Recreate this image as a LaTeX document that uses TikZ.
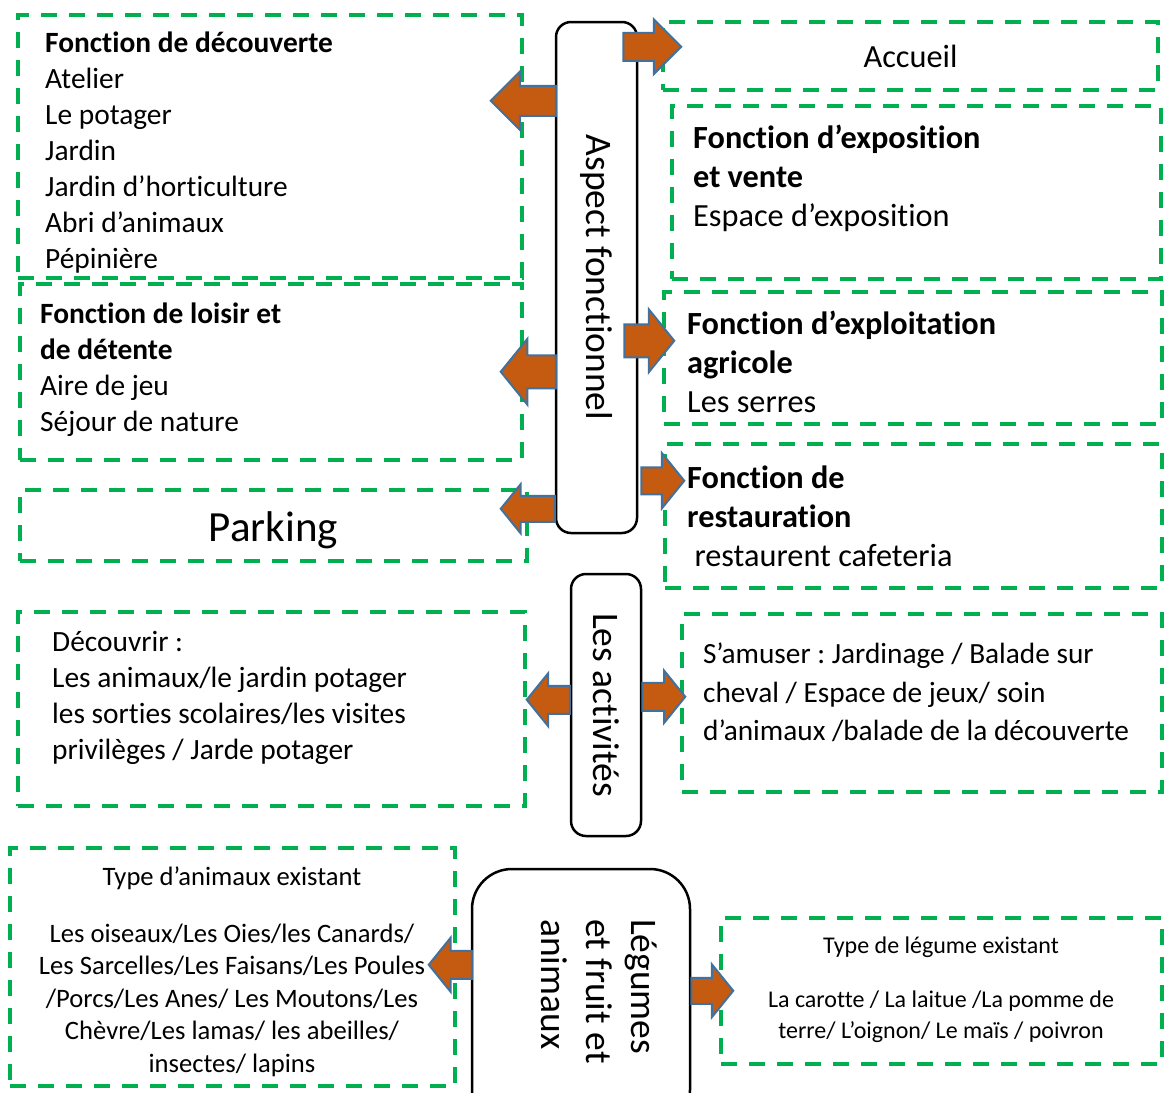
\documentclass[tikz,border=0pt]{standalone}
\usepackage{fontspec}
\setmainfont{Carlito}[Ligatures=NoCommon]
\usetikzlibrary{shapes.arrows, fit}
\frenchspacing

\definecolor{boxgreen}{HTML}{00B050}
\definecolor{arrowfill}{HTML}{C55A11}
\definecolor{arrowline}{HTML}{41719C}

\newcommand{\lefttxt}{\fontsize{29.4}{36}\selectfont}
\newcommand{\righttxt}{\fontsize{32.3}{39}\selectfont}
\newcommand{\amusetxt}{\fontsize{29.3}{38.5}\selectfont}
\newcommand{\hubtxt}{\fontsize{37.5}{45}\selectfont}

\tikzset{
  greenbox/.style={draw=boxgreen, line width=4pt, dash pattern=on 16pt off 12pt, inner sep=0pt},
  hubbox/.style={draw=black, line width=2.5pt, rounded corners=15pt, fill=white, inner sep=0pt},
  boxtext/.style={inner sep=0pt, align=left, anchor=north west},
  blockarrow/.style n args={3}{single arrow, draw=arrowline, fill=arrowfill, line width=2pt,
    inner sep=0pt, outer sep=0pt, text height=0pt, text depth=0pt, minimum height=#1,
    inner ysep=#2, single arrow head extend=#3, single arrow tip angle=102, anchor=tail},
  toleft/.style={shape border rotate=180},
}

\begin{document}
\begin{tikzpicture}[x=1pt, y=-1pt]
  \useasboundingbox (0,0) rectangle (1164,1092);

  % Dashed boxes
  \node[greenbox, fit={(18,15) (522,278)}] (decouv) {};
  \node[greenbox, fit={(663,22) (1158,90)}] (accueil) {};
  \node[greenbox, fit={(672,106) (1161,279)}] (expo) {};
  \node[greenbox, fit={(20,284) (522,460)}] (loisir) {};
  \node[greenbox, fit={(664,292) (1162,424)}] (exploit) {};
  \node[greenbox, fit={(665,444) (1162,588)}] (restau) {};
  \node[greenbox, fit={(20,490) (527,561)}] (parking) {};
  \node[greenbox, fit={(18,612) (525,806)}] (decouvrir) {};
  \node[greenbox, fit={(682,614) (1162,792)}] (samuser) {};
  \node[greenbox, fit={(10,848) (455,1086)}] (animaux) {};
  \node[greenbox, fit={(721,918) (1162,1064)}] (legume) {};

  % Central boxes
  \node[hubbox, fit={(556,22) (637,533)}] (aspect) {};
  \node[hubbox, fit={(571,574) (641,836)}] (activ) {};
  \node[hubbox, rounded corners=40pt, fit={(472,869) (690,1130)}] (legfruit) {};

  \node[rotate=-90, inner sep=0pt, font=\hubtxt] (aspectlbl) at (aspect) {Aspect fonctionnel};
  \node[rotate=-90, inner sep=0pt, font=\hubtxt] (activlbl) at (activ) {Les activités};
  \node[rotate=-90, inner sep=0pt, font=\hubtxt, align=left, anchor=north west] (legfruitlbl)
    at (657,919) {Légumes\\et fruit et\\animaux};

  % Box texts
  \node[boxtext, font=\lefttxt] (decouvtxt) at (45,31.5)
    {\textbf{Fonction de découverte}\\Atelier\\Le potager\\Jardin\\Jardin d’horticulture\\Abri d’animaux\\Pépinière};
  \node[inner sep=0pt, font=\righttxt] (accueiltxt) at (accueil) {Accueil};
  \node[boxtext, font=\righttxt] (expotxt) at (693,125)
    {\textbf{Fonction d’exposition}\\\textbf{et vente}\\Espace d’exposition};
  \node[boxtext, font=\lefttxt] (loisirtxt) at (40,302.7)
    {\textbf{Fonction de loisir et}\\\textbf{de détente}\\Aire de jeu\\Séjour de nature};
  \node[boxtext, font=\righttxt] (exploittxt) at (687,310.5)
    {\textbf{Fonction d’exploitation}\\\textbf{agricole}\\Les serres};
  \node[boxtext, font=\righttxt] (restautxt) at (687,465.5)
    {\textbf{Fonction de}\\\textbf{restauration}\\\hspace*{0.226em}restaurent cafeteria};
  \node[inner sep=0pt, font=\fontsize{43}{50}\selectfont] (parkingtxt) at (273.5,530) {Parking};
  \node[boxtext, font=\lefttxt] (decouvrirtxt) at (52,631)
    {Découvrir :\\Les animaux/le jardin potager\\les sorties scolaires/les visites\\privilèges / Jarde potager};
  \node[boxtext, font=\amusetxt] (samusertxt) at (703,643)
    {S’amuser : Jardinage / Balade sur\\cheval / Espace de jeux/ soin\\d’animaux /balade de la découverte};
  \node[inner sep=0pt, align=center, anchor=north, font=\fontsize{26.6}{32.5}\selectfont] (animauxtxt) at (232,866.5)
    {Type d’animaux existant\\[24.5pt]Les oiseaux/Les Oies/les Canards/\\Les Sarcelles/Les Faisans/Les Poules\\/Porcs/Les Anes/ Les Moutons/Les\\Chèvre/Les lamas/ les abeilles/\\insectes/ lapins};
  \node[inner sep=0pt, align=center, anchor=north, font=\fontsize{24}{31.5}\selectfont] (legumetxt) at (941,937)
    {Type de légume existant\\[21.8pt]La carotte / La laitue /La pomme de\\terre/ L’oignon/ Le maïs / poivron};

  % Block arrows
  \node[blockarrow={58pt}{13pt}{13.5pt}, single arrow tip angle=90] (accueilarr) at ([shift={(-15,26)}]aspect.north east) {};
  \node[blockarrow={65pt}{14pt}{14pt}, single arrow tip angle=90, toleft] (decouvarr) at ([shift={(1,80)}]aspect.north west) {};
  \node[blockarrow={50pt}{15.5pt}{15pt}] (exploitarr) at ([shift={(-14,320)}]aspect.north east) {};
  \node[blockarrow={55pt}{15.5pt}{16.5pt}, toleft] (loisirarr) at ([shift={(1,351)}]aspect.north west) {};
  \node[blockarrow={43pt}{12.5pt}{14pt}] (restauarr) at ([shift={(3,460)}]aspect.north east) {};
  \node[blockarrow={54pt}{12pt}{11.5pt}, toleft] (parkingarr) at ([shift={(0,488)}]aspect.north west) {};
  \node[blockarrow={43pt}{13pt}{12.5pt}, toleft] (activleftarr) at ([shift={(0,127)}]activ.north west) {};
  \node[blockarrow={43pt}{13pt}{12pt}] (activrightarr) at ([shift={(0,124)}]activ.north east) {};
  \node[blockarrow={43pt}{13pt}{13pt}, toleft] (legleftarr) at ([shift={(1,97)}]legfruit.north west) {};
  \node[blockarrow={42pt}{12pt}{13.5pt}] (legrightarr) at ([shift={(0,123)}]legfruit.north east) {};

\end{tikzpicture}
\end{document}
